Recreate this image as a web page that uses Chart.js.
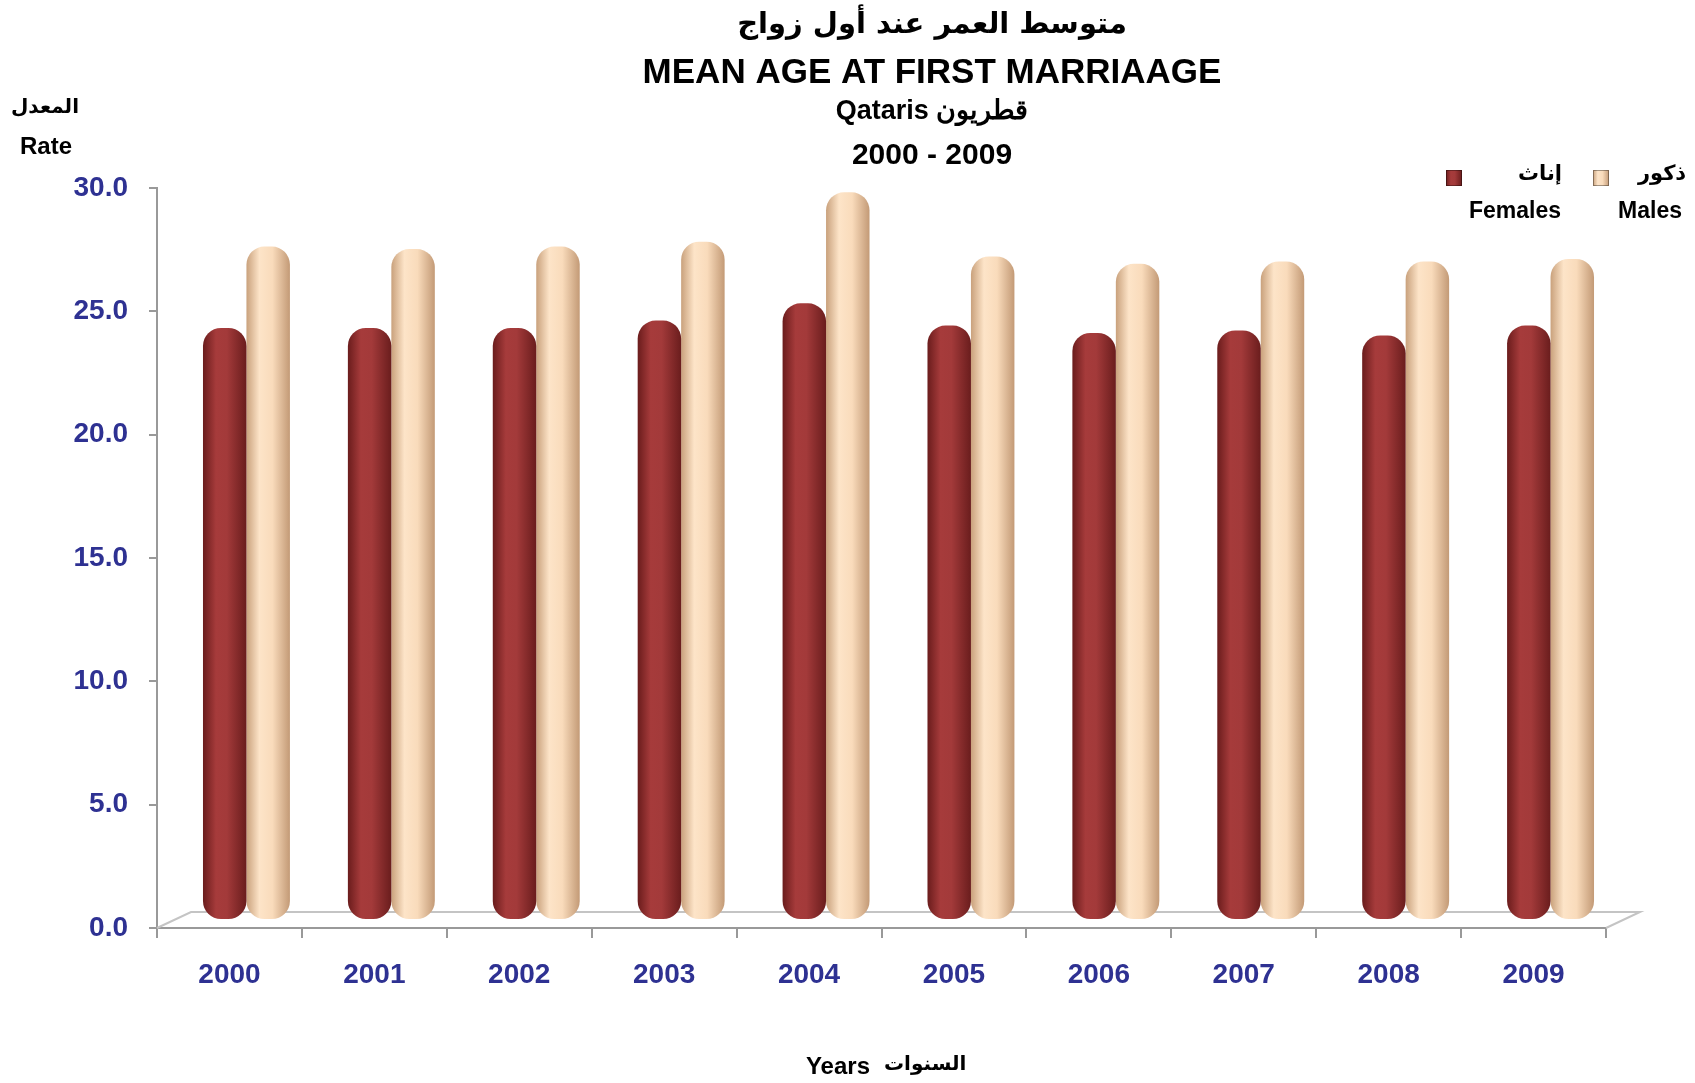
<!DOCTYPE html>
<html>
<head>
<meta charset="utf-8">
<script src="https://cdn.jsdelivr.net/npm/chart.js@4.4.0/dist/chart.umd.min.js"></script>
<style>
  body { margin: 0; background: #fff; }
  canvas { display: block; }
</style>
</head>
<body>
<canvas id="chart" width="1695" height="1083"></canvas>
<script>
// data
const years = ['2000', '2001', '2002', '2003', '2004', '2005', '2006', '2007', '2008', '2009'];
const females = [24.0, 24.0, 24.0, 24.3, 25.0, 24.1, 23.8, 23.9, 23.7, 24.1];
const males = [27.3, 27.2, 27.3, 27.5, 29.5, 26.9, 26.6, 26.7, 26.7, 26.8];
const yTicks = [0, 5, 10, 15, 20, 25, 30];

const blue = '#2E3192';
const latin = '"Liberation Sans", Arial, sans-serif';
const arabic = '"DejaVu Sans", "Liberation Sans", sans-serif';

// 3d depth of the floor
const DEPTH_X = 34, DEPTH_Y = -16;

const femaleStops = [[0, '#6a1c1c'], [0.3, '#a63b3b'], [0.55, '#a33a3a'], [1, '#6a1d1d']];
const maleStops = [[0, '#c9a17c'], [0.3, '#fde4c8'], [0.6, '#f9dbbb'], [1, '#c39a76']];

// cylinder shading: horizontal gradient over each bar
function barGradient(context, stops, side) {
  const chart = context.chart;
  const x = chart.scales.x;
  if (!x || !chart.chartArea) return stops[1][1];
  const center = x.getPixelForValue(context.dataIndex);
  const w = (x.width / years.length) * 0.3;
  const left = side === 0 ? center - w : center;
  const g = chart.ctx.createLinearGradient(left, 0, left + w, 0);
  stops.forEach(s => g.addColorStop(s[0], s[1]));
  return g;
}

const floorPlugin = {
  id: 'floor',
  beforeDatasetsDraw(chart) {
    const { ctx, chartArea: a } = chart;
    ctx.save();
    ctx.strokeStyle = '#c4c4c4';
    ctx.lineWidth = 2;
    ctx.beginPath();
    ctx.moveTo(a.left, a.bottom);
    ctx.lineTo(a.left + DEPTH_X, a.bottom + DEPTH_Y);
    ctx.lineTo(a.right + DEPTH_X, a.bottom + DEPTH_Y);
    ctx.lineTo(a.right, a.bottom);
    ctx.stroke();
    ctx.restore();
    // push bars half way into the floor
    ctx.save();
    ctx.translate(DEPTH_X / 2, DEPTH_Y / 2);
  },
  afterDatasetsDraw(chart) {
    chart.ctx.restore();
  }
};

function legendBox(ctx, x, y, stops) {
  const g = ctx.createLinearGradient(x, 0, x + 16, 0);
  stops.forEach(s => g.addColorStop(s[0], s[1]));
  ctx.fillStyle = g;
  ctx.fillRect(x, y, 16, 16);
  ctx.strokeStyle = 'rgba(0,0,0,0.35)';
  ctx.lineWidth = 1;
  ctx.strokeRect(x + 0.5, y + 0.5, 15, 15);
}

const textPlugin = {
  id: 'texts',
  afterDraw(chart) {
    const { ctx } = chart;
    ctx.save();
    ctx.fillStyle = '#000';
    ctx.textAlign = 'center';
    ctx.textBaseline = 'middle';

    // titles
    ctx.font = 'bold 29px ' + arabic;
    ctx.fillText('متوسط العمر عند أول زواج', 932, 25);
    ctx.font = 'bold 35px ' + latin;
    ctx.fillText('MEAN AGE AT FIRST MARRIAAGE', 932, 73);
    ctx.font = 'bold 27px ' + latin;
    ctx.fillText('Qataris قطريون', 932, 112);
    ctx.font = 'bold 30px ' + latin;
    ctx.fillText('2000 - 2009', 932, 156);

    // y axis title
    ctx.font = 'bold 20px ' + arabic;
    ctx.fillText('المعدل', 45, 108);
    ctx.font = 'bold 24px ' + latin;
    ctx.fillText('Rate', 46, 147);

    // x axis title
    ctx.font = 'bold 24px ' + latin;
    ctx.textAlign = 'right';
    ctx.fillText('Years', 870, 1067);
    ctx.textAlign = 'left';
    ctx.font = 'bold 20px ' + arabic;
    ctx.fillText('السنوات', 884, 1065);

    // legend
    legendBox(ctx, 1446, 170, femaleStops);
    legendBox(ctx, 1593, 170, maleStops);
    ctx.fillStyle = '#000';
    ctx.textAlign = 'center';
    ctx.font = 'bold 21px ' + arabic;
    ctx.fillText('إناث', 1540, 175);
    ctx.fillText('ذكور', 1662, 175);
    ctx.font = 'bold 23px ' + latin;
    ctx.fillText('Females', 1515, 212);
    ctx.fillText('Males', 1650, 212);
    ctx.restore();
  }
};

new Chart(document.getElementById('chart'), {
  type: 'bar',
  data: {
    labels: years,
    datasets: [
      {
        label: 'Females',
        data: females,
        backgroundColor: (c) => barGradient(c, femaleStops, 0),
        borderRadius: 18,
        borderSkipped: false,
        categoryPercentage: 0.6,
        barPercentage: 1.0
      },
      {
        label: 'Males',
        data: males,
        backgroundColor: (c) => barGradient(c, maleStops, 1),
        borderRadius: 18,
        borderSkipped: false,
        categoryPercentage: 0.6,
        barPercentage: 1.0
      }
    ]
  },
  options: {
    responsive: false,
    animation: false,
    layout: { padding: { top: 188, right: 89, left: 0, bottom: 0 } },
    plugins: {
      legend: { display: false },
      title: { display: false },
      tooltip: { enabled: false }
    },
    scales: {
      x: {
        grid: { display: true, drawOnChartArea: false, drawTicks: true, tickLength: 10, color: '#999', lineWidth: 2, offset: true },
        border: { display: true, color: '#999', width: 2 },
        ticks: { color: blue, padding: 20, font: { family: latin, size: 28, weight: 'bold' } },
        afterFit(scale) { scale.height = 155; }
      },
      y: {
        min: 0,
        max: 30,
        afterBuildTicks(scale) { scale.ticks = yTicks.map(v => ({ value: v })); },
        grid: { display: true, drawOnChartArea: false, drawTicks: true, tickLength: 8, color: '#999', lineWidth: 2 },
        border: { display: true, color: '#999', width: 2 },
        ticks: {
          color: blue,
          padding: 21,
          font: { family: latin, size: 28, weight: 'bold' },
          callback: (v) => Number(v).toFixed(1)
        },
        afterFit(scale) { scale.width = 157; }
      }
    }
  },
  plugins: [floorPlugin, textPlugin]
});
</script>
</body>
</html>
